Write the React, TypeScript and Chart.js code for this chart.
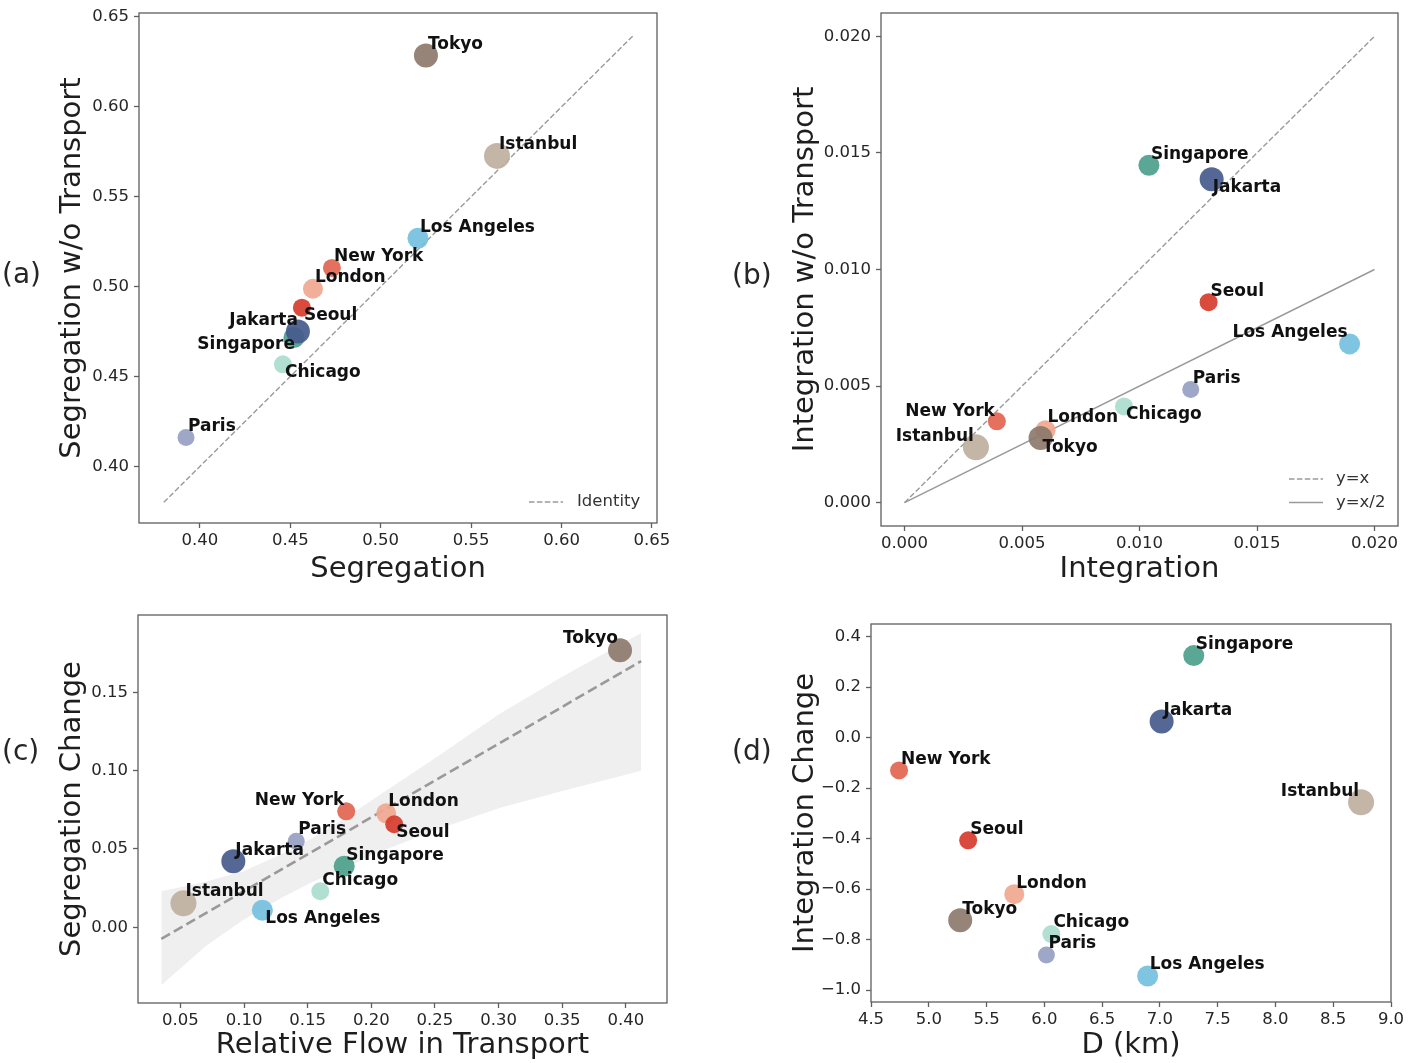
import React, { useEffect, useRef } from "react";
import { Chart, registerables } from "chart.js";

Chart.register(...registerables);
Chart.defaults.font.family = "'DejaVu Sans', sans-serif";

const FONT = "'DejaVu Sans', sans-serif";

// ---------------- data ----------------
// draw order (later = on top)
const cities = ["Singapore", "London", "Chicago", "Paris", "New York", "Los Angeles", "Istanbul", "Seoul", "Jakarta", "Tokyo"];

// (a)
const segregation = [0.452, 0.4625, 0.4459, 0.3923, 0.473, 0.5206, 0.5643, 0.4564, 0.4542, 0.525];
const segregationNoTransport = [0.4717, 0.4988, 0.4568, 0.416, 0.5104, 0.5269, 0.5727, 0.4883, 0.475, 0.6285];
const identityX = [0.38, 0.64];
const identityY = [0.38, 0.64];
const ticksA = [0.4, 0.45, 0.5, 0.55, 0.6, 0.65];

// (b)
const integration = [0.0104, 0.006, 0.00934, 0.01218, 0.00393, 0.01894, 0.00304, 0.01294, 0.01307, 0.00579];
const integrationNoTransport = [0.01447, 0.00311, 0.00413, 0.00485, 0.00349, 0.00681, 0.00238, 0.0086, 0.01387, 0.00277];
const refX = [0, 0.02];
const refYEqualsX = [0, 0.02];
const refYHalfX = [0, 0.01];
const ticksB = [0, 0.005, 0.01, 0.015, 0.02];

// (c)
const relativeFlow = [0.1787, 0.2117, 0.1599, 0.141, 0.1803, 0.1144, 0.0524, 0.218, 0.0916, 0.3954];
const segregationChange = [0.039, 0.0728, 0.023, 0.0549, 0.0741, 0.0109, 0.0153, 0.0658, 0.0421, 0.1769];
const fitX = [0.035, 0.412];
const fitY = [-0.0075, 0.17];
const bandX = [0.035, 0.07, 0.1, 0.13, 0.154, 0.18, 0.2, 0.25, 0.3, 0.35, 0.412];
const bandUpper = [0.023, 0.029, 0.036, 0.047, 0.057, 0.07, 0.081, 0.108, 0.136, 0.16, 0.188];
const bandLower = [-0.037, -0.012, 0.005, 0.019, 0.029, 0.038, 0.046, 0.062, 0.076, 0.087, 0.1];
const ticksCX = [0.05, 0.1, 0.15, 0.2, 0.25, 0.3, 0.35, 0.4];
const ticksCY = [0, 0.05, 0.1, 0.15];

// (d)
const distanceKm = [7.293, 5.74, 6.061, 6.018, 4.743, 6.894, 8.741, 5.341, 7.015, 5.272];
const integrationChange = [0.325, -0.62, -0.778, -0.861, -0.13, -0.944, -0.256, -0.4066, 0.064, -0.723];
const ticksDX = [4.5, 5, 5.5, 6, 6.5, 7, 7.5, 8, 8.5, 9];
const ticksDY = [-1, -0.8, -0.6, -0.4, -0.2, 0, 0.2, 0.4];

// ---------------- styles ----------------
const cityColors = [
  "rgba(76,160,140,0.92)",
  "rgba(240,168,145,0.92)",
  "rgba(170,220,205,0.92)",
  "rgba(150,160,195,0.92)",
  "rgba(226,100,80,0.92)",
  "rgba(116,192,222,0.92)",
  "rgba(191,176,159,0.92)",
  "rgba(214,60,45,0.92)",
  "rgba(70,90,140,0.92)",
  "rgba(140,122,107,0.92)",
];
const cityRadius = [10.5, 10, 9, 8.5, 9, 10.5, 13, 9, 12, 12];

type Offset = { dx: number; dy: number; align?: CanvasTextAlign };
const DEF_OFFSET: Offset = { dx: 2, dy: -11, align: "left" };

type LegendItem = { text: string; dash: number[]; x0: number; x1: number; tx: number; dy: number };

interface Spec {
  box: { left: number; top: number; width: number; height: number };
  area: { left: number; right: number; top: number; bottom: number };
  x: number[];
  y: number[];
  xRange: [number, number];
  yRange: [number, number];
  xTicks: number[];
  yTicks: number[];
  xDigits: number;
  yDigits: number;
  xTitle: string;
  yTitle: string;
  xTitlePad: number;
  yTitlePad: number;
  extra: any[];
  offsets: Record<string, Offset>;
  legend: LegendItem[];
}

function pts(xs: number[], ys: number[]) {
  return xs.map((x, i) => ({ x, y: ys[i] }));
}

function lineDs(xs: number[], ys: number[], opts: any) {
  return {
    type: "line",
    data: pts(xs, ys),
    borderColor: "#9a9a9a",
    borderWidth: 1.5,
    borderDash: [],
    pointRadius: 0,
    pointHoverRadius: 0,
    fill: false,
    tension: 0,
    order: 1,
    ...opts,
  };
}

function fmt(v: number, d: number) {
  const s = Math.abs(v) < 1e-12 ? (0).toFixed(d) : v.toFixed(d);
  return s.replace("-", "\u2212");
}

function buildConfig(spec: Spec): any {
  const { area, box } = spec;
  const xAxisHeight = box.height - area.bottom;
  const scatter = {
    type: "scatter",
    data: pts(spec.x, spec.y),
    pointBackgroundColor: cityColors,
    pointBorderWidth: 0,
    pointRadius: cityRadius,
    pointHoverRadius: cityRadius,
    order: 0,
  };
  const overlay = {
    id: "overlay",
    afterDraw(chart: any) {
      const ctx = chart.ctx as CanvasRenderingContext2D;
      const a = chart.chartArea;
      ctx.save();
      ctx.setLineDash([]);
      ctx.strokeStyle = "#5f5f5f";
      ctx.lineWidth = 1.3;
      ctx.strokeRect(a.left, a.top, a.right - a.left, a.bottom - a.top);
      // legend
      ctx.font = `16.5px ${FONT}`;
      ctx.textBaseline = "middle";
      ctx.textAlign = "left";
      spec.legend.forEach((it) => {
        const y = a.bottom - it.dy;
        ctx.beginPath();
        ctx.strokeStyle = "#9a9a9a";
        ctx.lineWidth = 1.5;
        ctx.setLineDash(it.dash);
        ctx.moveTo(a.right - it.x0, y);
        ctx.lineTo(a.right - it.x1, y);
        ctx.stroke();
        ctx.setLineDash([]);
        ctx.fillStyle = "#333";
        ctx.fillText(it.text, a.right - it.tx, y);
      });
      // point labels
      const meta = chart.getDatasetMeta(0);
      ctx.font = `bold 17px ${FONT}`;
      ctx.fillStyle = "#111";
      ctx.textBaseline = "middle";
      meta.data.forEach((p: any, i: number) => {
        const o = { ...DEF_OFFSET, ...(spec.offsets[cities[i]] || {}) };
        ctx.textAlign = o.align || "left";
        ctx.fillText(cities[i], p.x + o.dx, p.y + o.dy);
      });
      ctx.restore();
    },
  };
  const tickFont = { size: 16.5, family: FONT };
  const gridOpts = {
    display: true,
    drawOnChartArea: false,
    drawTicks: true,
    tickLength: 5,
    tickWidth: 1.3,
    tickColor: "#5f5f5f",
    color: "#5f5f5f",
  };
  return {
    type: "scatter",
    data: { datasets: [scatter, ...spec.extra] },
    options: {
      responsive: false,
      animation: false,
      devicePixelRatio: 1,
      events: [],
      layout: { padding: { left: 0, top: area.top, right: box.width - area.right, bottom: 0 } },
      plugins: { legend: { display: false }, tooltip: { enabled: false } },
      scales: {
        x: {
          type: "linear",
          position: "bottom",
          min: spec.xRange[0],
          max: spec.xRange[1],
          afterBuildTicks: (s: any) => {
            s.ticks = spec.xTicks.map((v) => ({ value: v }));
          },
          afterFit: (s: any) => {
            s.height = xAxisHeight;
            s.paddingLeft = 0;
            s.paddingRight = 0;
          },
          ticks: {
            callback: (v: any) => fmt(Number(v), spec.xDigits),
            font: tickFont,
            color: "#262626",
            padding: 3,
            maxRotation: 0,
            autoSkip: false,
          },
          grid: gridOpts,
          border: { display: false },
          title: {
            display: true,
            text: spec.xTitle,
            font: { size: 29, family: FONT },
            color: "#1e1e1e",
            padding: { top: 0, bottom: spec.xTitlePad },
          },
        },
        y: {
          type: "linear",
          position: "left",
          min: spec.yRange[0],
          max: spec.yRange[1],
          afterBuildTicks: (s: any) => {
            s.ticks = spec.yTicks.map((v) => ({ value: v }));
          },
          afterFit: (s: any) => {
            s.width = area.left;
            s.paddingTop = 0;
            s.paddingBottom = 0;
          },
          ticks: {
            callback: (v: any) => fmt(Number(v), spec.yDigits),
            font: tickFont,
            color: "#262626",
            padding: 5,
            autoSkip: false,
          },
          grid: gridOpts,
          border: { display: false },
          title: {
            display: true,
            text: spec.yTitle,
            font: { size: 29, family: FONT },
            color: "#1e1e1e",
            padding: { top: spec.yTitlePad, bottom: 0 },
          },
        },
      },
    },
    plugins: [overlay],
  };
}

const specA: Spec = {
  box: { left: 0, top: 0, width: 705, height: 590 },
  area: { left: 139, right: 657, top: 9, bottom: 523 },
  x: segregation,
  y: segregationNoTransport,
  xRange: [0.3663, 0.6528],
  yRange: [0.3685, 0.6522],
  xTicks: ticksA,
  yTicks: ticksA,
  xDigits: 2,
  yDigits: 2,
  xTitle: "Segregation",
  yTitle: "Segregation w/o Transport",
  xTitlePad: 3,
  yTitlePad: 55,
  extra: [lineDs(identityX, identityY, { borderDash: [5.5, 2.4], borderWidth: 1.4 })],
  offsets: {
    Seoul: { dx: 2, dy: 8 },
    Jakarta: { dx: 0, dy: -11, align: "right" },
    Singapore: { dx: 1, dy: 7, align: "right" },
    Chicago: { dx: 2, dy: 8 },
  },
  legend: [{ text: "Identity", dash: [5.5, 2.4], x0: 128, x1: 94, tx: 80, dy: 21 }],
};

const specB: Spec = {
  box: { left: 705, top: 0, width: 706, height: 590 },
  area: { left: 176, right: 695, top: 10, bottom: 526 },
  x: integration,
  y: integrationNoTransport,
  xRange: [-0.001, 0.021],
  yRange: [-0.001, 0.021],
  xTicks: ticksB,
  yTicks: ticksB,
  xDigits: 3,
  yDigits: 3,
  xTitle: "Integration",
  yTitle: "Integration w/o Transport",
  xTitlePad: 3,
  yTitlePad: 83,
  extra: [
    lineDs(refX, refYEqualsX, { borderDash: [5.5, 2.4], borderWidth: 1.4 }),
    lineDs(refX, refYHalfX, { borderWidth: 1.5 }),
  ],
  offsets: {
    Jakarta: { dx: 1, dy: 8 },
    "Los Angeles": { dx: -2, dy: -11, align: "right" },
    Chicago: { dx: 2, dy: 8 },
    "New York": { dx: -2, dy: -10, align: "right" },
    London: { dx: 2, dy: -13 },
    Tokyo: { dx: 2, dy: 9 },
    Istanbul: { dx: -2, dy: -11, align: "right" },
  },
  legend: [
    { text: "y=x", dash: [5.5, 2.4], x0: 109, x1: 75, tx: 62, dy: 47 },
    { text: "y=x/2", dash: [], x0: 109, x1: 75, tx: 62, dy: 23.5 },
  ],
};

const specC: Spec = {
  box: { left: 0, top: 590, width: 705, height: 473 },
  area: { left: 138, right: 667, top: 25, bottom: 413 },
  x: relativeFlow,
  y: segregationChange,
  xRange: [0.0167, 0.4323],
  yRange: [-0.0484, 0.1995],
  xTicks: ticksCX,
  yTicks: ticksCY,
  xDigits: 2,
  yDigits: 2,
  xTitle: "Relative Flow in Transport",
  yTitle: "Segregation Change",
  xTitlePad: 0,
  yTitlePad: 55,
  extra: [
    lineDs(fitX, fitY, { borderDash: [10, 4.5], borderWidth: 2.6, borderColor: "#999" }),
    lineDs(bandX, bandUpper, {
      borderColor: "rgba(0,0,0,0)",
      borderWidth: 0,
      fill: "+1",
      backgroundColor: "#efefef",
      order: 2,
    }),
    lineDs(bandX, bandLower, { borderColor: "rgba(0,0,0,0)", borderWidth: 0, order: 2 }),
  ],
  offsets: {
    Tokyo: { dx: -2, dy: -12, align: "right" },
    "New York": { dx: -2, dy: -11, align: "right" },
    London: { dx: 2, dy: -12 },
    Seoul: { dx: 2, dy: 8 },
    Paris: { dx: 2, dy: -12 },
    Istanbul: { dx: 2, dy: -12 },
    "Los Angeles": { dx: 3, dy: 8 },
  },
  legend: [],
};

const specD: Spec = {
  box: { left: 705, top: 590, width: 706, height: 473 },
  area: { left: 166, right: 686, top: 34, bottom: 412 },
  x: distanceKm,
  y: integrationChange,
  xRange: [4.5, 9.0],
  yRange: [-1.047, 0.45],
  xTicks: ticksDX,
  yTicks: ticksDY,
  xDigits: 1,
  yDigits: 1,
  xTitle: "D (km)",
  yTitle: "Integration Change",
  xTitlePad: 0,
  yTitlePad: 83,
  extra: [],
  offsets: {
    Istanbul: { dx: -2, dy: -11, align: "right" },
  },
  legend: [],
};

function Panel({ spec }: { spec: Spec }) {
  const ref = useRef<HTMLCanvasElement | null>(null);
  useEffect(() => {
    if (!ref.current) return;
    const chart = new Chart(ref.current, buildConfig(spec));
    return () => chart.destroy();
  }, [spec]);
  const { box } = spec;
  return (
    <canvas
      ref={ref}
      width={box.width}
      height={box.height}
      style={{ position: "absolute", left: box.left, top: box.top, width: box.width, height: box.height }}
    />
  );
}

const tagStyle = (left: number, top: number): React.CSSProperties => ({
  position: "absolute",
  left,
  top,
  fontFamily: FONT,
  fontSize: 28,
  lineHeight: "28px",
  color: "#262626",
  whiteSpace: "nowrap",
});

export default function App() {
  return (
    <div style={{ position: "absolute", left: 0, top: 0, width: 1411, height: 1063, background: "#fff", overflow: "hidden" }}>
      <Panel spec={specA} />
      <Panel spec={specB} />
      <Panel spec={specC} />
      <Panel spec={specD} />
      <div style={tagStyle(2, 260)}>(a)</div>
      <div style={tagStyle(732, 261)}>(b)</div>
      <div style={tagStyle(2, 737)}>(c)</div>
      <div style={tagStyle(732, 737)}>(d)</div>
    </div>
  );
}
